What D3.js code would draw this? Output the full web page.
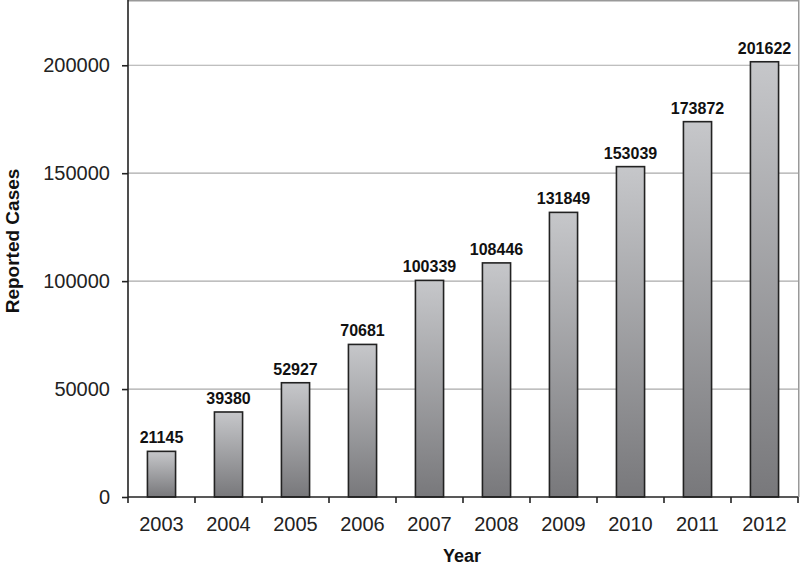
<!DOCTYPE html>
<html><head><meta charset="utf-8">
<script src="https://cdn.jsdelivr.net/npm/d3@7"></script>
<style>body{margin:0;background:#fff}svg{display:block}</style>
</head><body>
<script>
const years = ["2003","2004","2005","2006","2007","2008","2009","2010","2011","2012"];
const cases = [21145,39380,52927,70681,100339,108446,131849,153039,173872,201622];
const yTicks = [0,50000,100000,150000,200000];

const W=800,H=571, m={l:128,r:2,t:0.5,b:74};
const svg=d3.select("body").append("svg").attr("width",W).attr("height",H);
const defs=svg.append("defs");
const g=defs.append("linearGradient").attr("id","bg").attr("x1",0).attr("y1",0).attr("x2",0).attr("y2",1);
g.append("stop").attr("offset","0%").attr("stop-color","#c6c7ca");
g.append("stop").attr("offset","100%").attr("stop-color","#78787b");

const x=d3.scaleBand().domain(years).range([m.l,W-m.r]).paddingInner(0.58).paddingOuter(0.29);
const xb=d3.scaleBand().domain(years).range([m.l,W-m.r]);
const y=d3.scaleLinear().domain([0,230000]).range([497,0.5]);

// grid
svg.append("g").selectAll("line").data(yTicks.slice(1)).join("line")
 .attr("x1",m.l).attr("x2",W-m.r).attr("y1",d=>y(d)).attr("y2",d=>y(d))
 .attr("stroke","#aaaaaa").attr("stroke-width",1.2);
// frame top/right
svg.append("path").attr("d",`M${m.l},0.75H${W-1.25}V497`).attr("fill","none").attr("stroke","#999").attr("stroke-width",1.5);

// bars
svg.append("g").selectAll("rect").data(years).join("rect")
 .attr("x",d=>x(d)).attr("width",x.bandwidth())
 .attr("y",(d,i)=>y(cases[i])).attr("height",(d,i)=>y(0)-y(cases[i]))
 .attr("fill","url(#bg)").attr("stroke","#222").attr("stroke-width",1.6);

// value labels
svg.append("g").selectAll("text").data(years).join("text")
 .attr("x",d=>x(d)+x.bandwidth()/2).attr("y",(d,i)=>y(cases[i])-8)
 .attr("text-anchor","middle").attr("font-family","Liberation Sans, Arial, sans-serif")
 .attr("font-weight","bold").attr("font-size",16).attr("fill","#111")
 .text((d,i)=>cases[i]);

// y axis
const ya=svg.append("g").attr("transform",`translate(${m.l},0)`)
 .call(d3.axisLeft(y).tickValues(yTicks).tickSize(6).tickPadding(12).tickFormat(d3.format("d")));
ya.select(".domain").attr("stroke","#222").attr("stroke-width",1.6).attr("d",`M0,0V497`);
ya.selectAll(".tick line").attr("stroke","#222").attr("stroke-width",1.6);
ya.selectAll("text").attr("font-family","Liberation Sans, Arial, sans-serif").attr("font-size",20).attr("fill","#222");

// x axis
const xa=svg.append("g").attr("transform",`translate(0,497)`);
xa.append("line").attr("x1",m.l).attr("x2",W-m.r).attr("stroke","#222").attr("stroke-width",1.6);
xa.selectAll("line.t").data(years.concat(["end"])).join("line").attr("class","t")
 .attr("x1",(d,i)=>i<years.length?xb(d):W-m.r).attr("x2",(d,i)=>i<years.length?xb(d):W-m.r)
 .attr("y1",0).attr("y2",6).attr("stroke","#222").attr("stroke-width",1.6);
xa.selectAll("text").data(years).join("text")
 .attr("x",d=>x(d)+x.bandwidth()/2).attr("y",34).attr("text-anchor","middle")
 .attr("font-family","Liberation Sans, Arial, sans-serif").attr("font-size",20).attr("fill","#222")
 .text(d=>d);

// titles
svg.append("text").attr("x",462).attr("y",562).attr("text-anchor","middle")
 .attr("font-family","Liberation Sans, Arial, sans-serif").attr("font-weight","bold").attr("font-size",18).attr("fill","#111").text("Year");
svg.append("text").attr("transform","translate(19,241) rotate(-90)").attr("text-anchor","middle")
 .attr("font-family","Liberation Sans, Arial, sans-serif").attr("font-weight","bold").attr("font-size",19).attr("fill","#111").text("Reported Cases");
</script>
</body></html>
